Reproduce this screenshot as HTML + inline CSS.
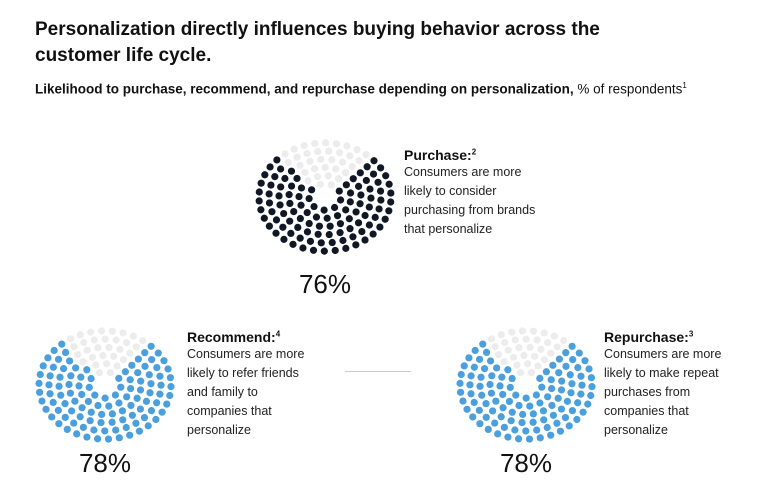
<!DOCTYPE html>
<html><head><meta charset="utf-8">
<style>
body{margin:0;background:#fff;font-family:"Liberation Sans",sans-serif;color:#111;}
#c{position:relative;width:760px;height:496px;overflow:hidden;}
.t{position:absolute;}
.h{font-weight:bold;font-size:14px;}
.d{font-size:12.5px;line-height:19px;color:#222;}
</style></head><body>
<div id="c">
<div class="t" style="left:35px;top:17px;font-size:19px;font-weight:bold;line-height:26px;">Personalization directly influences buying behavior across the<br>customer life cycle.</div>
<div class="t" style="left:35px;top:81px;font-size:13.5px;"><b>Likelihood to purchase, recommend, and repurchase depending on personalization,</b> % of respondents<sup style="font-size:8px">1</sup></div>
<svg id="s" width="760" height="496" style="position:absolute;left:0;top:0"></svg>
<div class="t" style="left:404px;top:147px;"><div class="h">Purchase:<sup style="font-size:8px">2</sup></div><div class="d">Consumers are more<br>likely to consider<br>purchasing from brands<br>that personalize</div></div>
<div class="t" style="left:187px;top:329px;"><div class="h">Recommend:<sup style="font-size:8px">4</sup></div><div class="d">Consumers are more<br>likely to refer friends<br>and family to<br>companies that<br>personalize</div></div>
<div class="t" style="left:604px;top:329px;"><div class="h">Repurchase:<sup style="font-size:8px">3</sup></div><div class="d">Consumers are more<br>likely to make repeat<br>purchases from<br>companies that<br>personalize</div></div>
<div class="t" style="left:345px;top:371px;width:66px;height:1px;background:#ccc;"></div>
</div>
<script>
const categories=["Purchase","Recommend","Repurchase"];
const values=[76,78,78];
const labels=["76%","78%","78%"];
const colors=["#101826","#4a9fdc","#4a9fdc"];
const centers=[[325,197],[105,385],[526,385]];
const svg=document.getElementById('s');
const NS="http://www.w3.org/2000/svg";
values.forEach((v,i)=>{
  const [cx,cy]=centers[i];
  const p=v/100;
  const start=-Math.PI/2+(1-p)/2*2*Math.PI;
  const g=document.createElementNS(NS,'g');
  
  
  for(let k=1;k<=6;k++){
    const r=6+k*10;
    const n=Math.round(2*Math.PI*r/11);
    for(let j=0;j<n;j++){
      const f=(j+0.5)/n;
      const a=start+f*2*Math.PI;
      const c=document.createElementNS(NS,'circle');
      
      
      c.setAttribute('cx',cx+r*Math.cos(a));
      c.setAttribute('cy',cy+r*Math.sin(a)*0.82);
      c.setAttribute('r',3.6);
      c.setAttribute('fill',f<p?colors[i]:'#ececec');
      g.appendChild(c);
    }
  }
  svg.appendChild(g);
  const t=document.createElementNS(NS,'text');
  
  
  t.setAttribute('x',cx);t.setAttribute('y',cy+(i==0?96:87));
  t.setAttribute('text-anchor','middle');
  t.setAttribute('font-size','26');
  t.setAttribute('font-family','Liberation Sans, sans-serif');
  t.setAttribute('fill','#111');
  t.textContent=labels[i];
  svg.appendChild(t);
});
</script>
</body></html>
